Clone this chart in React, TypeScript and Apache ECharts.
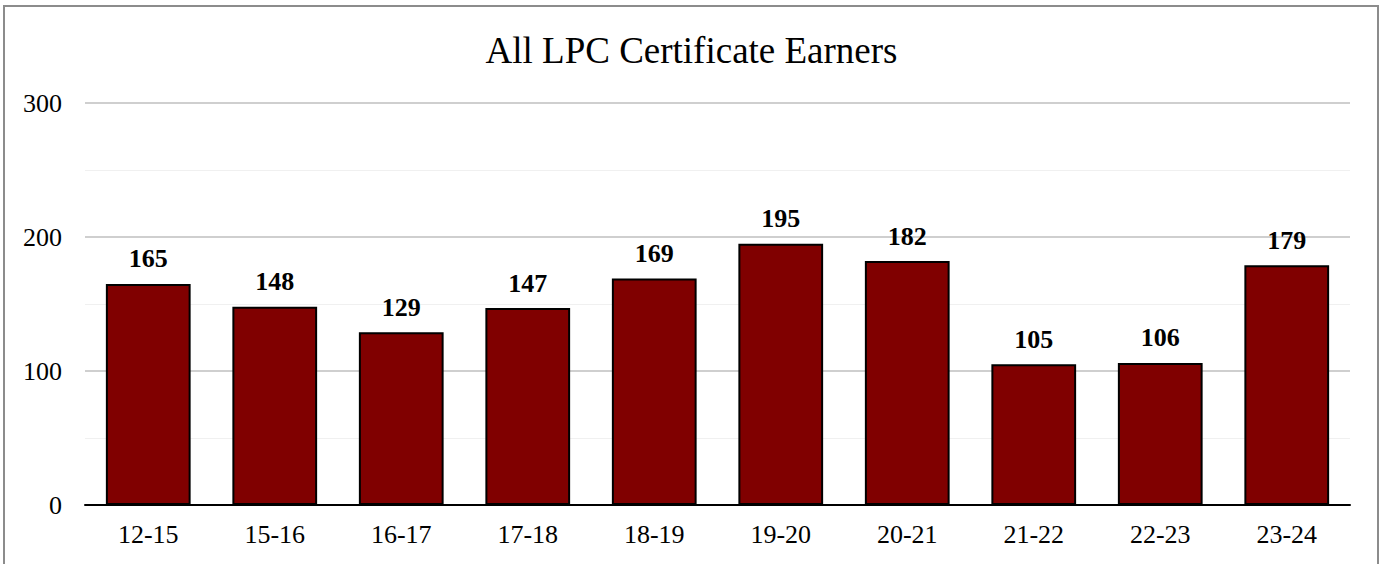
import React, { useEffect, useRef } from "react";
import * as echarts from "echarts";

const categories = ["12-15", "15-16", "16-17", "17-18", "18-19", "19-20", "20-21", "21-22", "22-23", "23-24"];
const earners = [165, 148, 129, 147, 169, 195, 182, 105, 106, 179];
const titleText = "All LPC Certificate Earners";

const FONT = "'Liberation Serif', 'Times New Roman', serif";

export default function App() {
  const ref = useRef<HTMLDivElement>(null);
  useEffect(() => {
    document.body.style.margin = "0";
    const chart = echarts.init(ref.current!, null, { renderer: "svg" });
    chart.setOption({
      animation: false,
      backgroundColor: "#ffffff",
      title: {
        text: titleText,
        left: "center",
        top: 27,
        textStyle: { fontFamily: FONT, fontSize: 37, fontWeight: "normal", color: "#000" },
      },
      graphic: [
        {
          type: "rect",
          shape: { x: 4, y: 6, width: 1374, height: 620 },
          style: { fill: "none", stroke: "#8c8c8c", lineWidth: 2 },
          silent: true,
        },
      ],
      grid: { left: 85, right: 33, top: 103, bottom: 59, containLabel: false },
      xAxis: {
        type: "category",
        data: categories,
        axisLine: { show: true, lineStyle: { color: "#000", width: 2 } },
        axisTick: { show: false },
        axisLabel: { fontFamily: FONT, fontSize: 26, color: "#000", margin: 16 },
      },
      yAxis: {
        type: "value",
        min: 0,
        max: 300,
        interval: 100,
        axisLine: { show: false },
        axisTick: { show: false },
        axisLabel: { fontFamily: FONT, fontSize: 26, color: "#000", margin: 23 },
        splitLine: { show: true, lineStyle: { color: "#bfbfbf", width: 1.5 } },
        minorTick: { show: false, splitNumber: 2 },
        minorSplitLine: { show: true, lineStyle: { color: "#f0f0f0", width: 1 } },
      },
      series: [
        {
          type: "bar",
          data: earners,
          barWidth: "67%",
          itemStyle: { color: "#800000", borderColor: "#000", borderWidth: 2 },
          label: {
            show: true,
            position: "top",
            distance: 12,
            fontFamily: FONT,
            fontSize: 26,
            fontWeight: "bold",
            color: "#000",
          },
        },
      ],
    });
    return () => chart.dispose();
  }, []);
  return <div ref={ref} style={{ width: 1383, height: 564 }} />;
}
